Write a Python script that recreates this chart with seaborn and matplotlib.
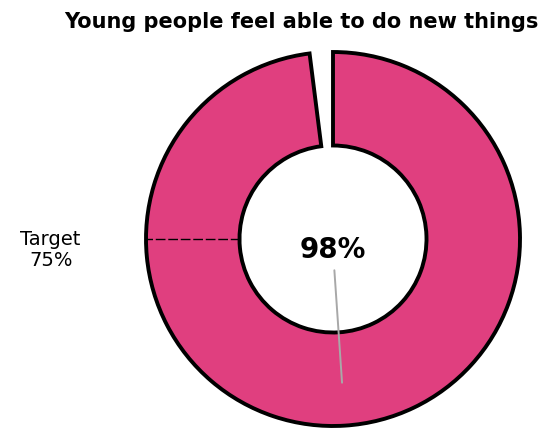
import numpy as np
import matplotlib
matplotlib.use("Agg")
import matplotlib.pyplot as plt
import seaborn as sns

# Share of young people who feel able to do new things, and the target
labels = ["Able", "Not able"]
values = [98, 2]
target = 75
title = "Young people feel able to do new things"

sns.set_theme(style="white")
plt.rcParams["font.family"] = ["DejaVu Sans"]

pink = "#E03F7F"

fig = plt.figure(figsize=(5.59, 4.30), dpi=100)
W, H = 559, 430
cx, cy, r = 333, 239, 187
ax = fig.add_axes([(cx - r) / W, (H - cy - r) / H, 2 * r / W, 2 * r / H])

ring = 0.5
wedges, _ = ax.pie(
    values,
    startangle=90,
    counterclock=False,
    radius=1.0,
    colors=[pink, "white"],
    wedgeprops=dict(width=ring, edgecolor="black", linewidth=2.8),
)
wedges[1].set_visible(False)
for w in wedges:
    w.set_clip_on(False)
ax.set_xlim(-1, 1)
ax.set_ylim(-1, 1)
ax.set_aspect("equal")
ax.axis("off")

# Target marker: dashed radial line across the ring at the target share
t_ang = np.deg2rad(90 - 360 * target / 100)
r_in, r_out = 1 - ring, 1.0
ax.plot([r_in * np.cos(t_ang), r_out * np.cos(t_ang)],
        [r_in * np.sin(t_ang), r_out * np.sin(t_ang)],
        color="black", lw=1.0, ls=(0, (7, 2)), zorder=5, clip_on=False)
ax.text(1.51 * np.cos(t_ang), 1.51 * np.sin(t_ang) - 0.06,
        f"Target\n{target}%", ha="center", va="center",
        fontsize=14, color="black", linespacing=1.15)

# Value label in the hole with a leader to the middle of the filled wedge
m_ang = np.deg2rad(90 - 360 * (values[0] / 2) / sum(values))
r_mid = 0.77
ax.annotate(f"{values[0]}%",
            xy=(r_mid * np.cos(m_ang), r_mid * np.sin(m_ang)),
            xytext=(0, -0.06), ha="center", va="center",
            fontsize=20, fontweight="bold", color="black",
            arrowprops=dict(arrowstyle="-", color="#A8A8A8", lw=1.4,
                            shrinkA=2, shrinkB=0),
            zorder=6)

fig.text(301 / W, 1 - 22 / H, title, ha="center", va="center",
         fontsize=15, fontweight="bold", color="black")

fig.savefig("out.png", dpi=100)
